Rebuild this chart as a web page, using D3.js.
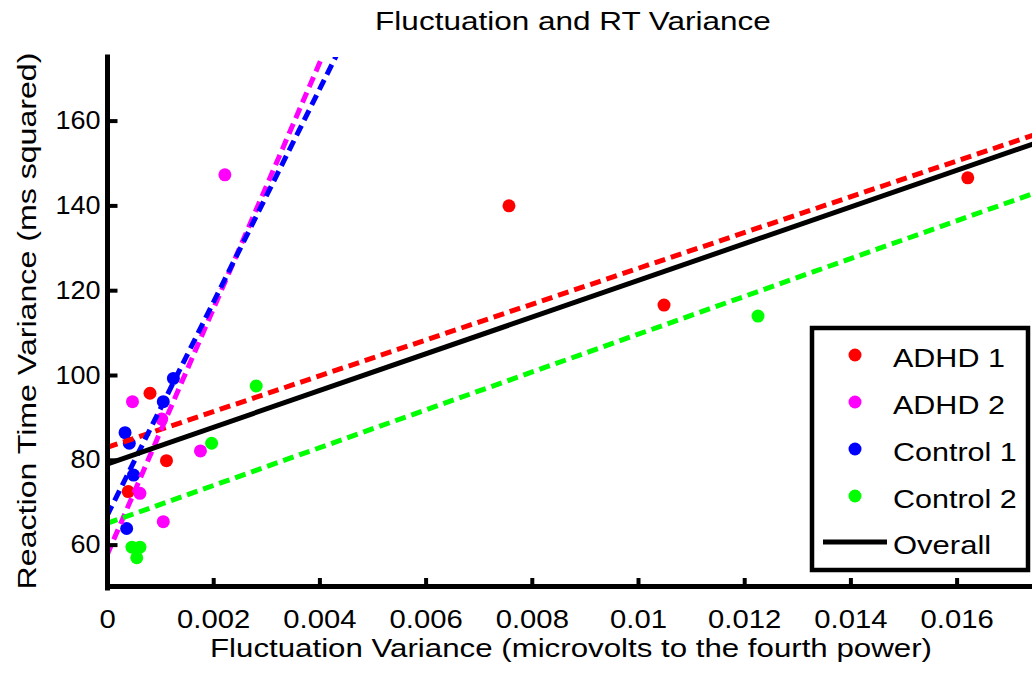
<!DOCTYPE html>
<html>
<head>
<meta charset="utf-8">
<script src="https://cdn.jsdelivr.net/npm/d3@7"></script>
<style>
  html, body { margin: 0; padding: 0; background: #fff; }
  svg { display: block; }
  text { font-family: "Liberation Sans", Arial, Helvetica, sans-serif; fill: #000; }
</style>
</head>
<body>
<svg id="chart" width="1032" height="676"></svg>
<script>
// ---- Data ----
const groups = ["ADHD 1", "ADHD 2", "Control 1", "Control 2"];
const groupColors = ["#ff0000", "#ff00ff", "#0000ff", "#00ff00"];

const adhd1X = [0.01621, 0.00757, 0.01049, 0.00081, 0.00112, 0.00040];
const adhd1Y = [146.5, 139.9, 116.5, 95.7, 79.8, 72.5];

const adhd2X = [0.00222, 0.00048, 0.00103, 0.00176, 0.00062, 0.00106];
const adhd2Y = [147.2, 93.7, 89.6, 82.1, 72.1, 65.4];

const control1X = [0.00034, 0.00042, 0.00125, 0.00106, 0.00050, 0.00037];
const control1Y = [86.4, 83.9, 99.2, 93.7, 76.4, 63.8];

const control2X = [0.01226, 0.00281, 0.00197, 0.00047, 0.00062, 0.00056];
const control2Y = [113.9, 97.4, 83.9, 59.4, 59.4, 56.9];

// fitted lines: [intercept, slope] per group, then overall
const fitIntercepts = [82.9, 57.5, 66.8, 65.0];
const fitSlopes = [4223, 29000, 25130, 4460];
const overallFit = [79.0, 4329];

const xTicks = [0, 0.002, 0.004, 0.006, 0.008, 0.01, 0.012, 0.014, 0.016];
const yTicks = [60, 80, 100, 120, 140, 160];

const titleText = "Fluctuation and RT Variance";
const xLabelText = "Fluctuation Variance (microvolts to the fourth power)";
const yLabelText = "Reaction Time Variance (ms squared)";
const overallLabel = "Overall";

// ---- Build ----
const groupX = [adhd1X, adhd2X, control1X, control2X];
const groupY = [adhd1Y, adhd2Y, control1Y, control2Y];

const svg = d3.select("#chart");
const FS = 25;

const xDomain = [0, 0.0175];
const yDomain = [50, 175];
const x = d3.scaleLinear().domain(xDomain).range([107, 1036.25]);
const y = d3.scaleLinear().domain(yDomain).range([587, 57]);

function stretch(sel, factor) {
  sel.each(function () {
    const len = this.getComputedTextLength();
    d3.select(this).attr("textLength", len * factor).attr("lengthAdjust", "spacingAndGlyphs");
  });
}

svg.append("defs").append("clipPath").attr("id", "plotclip")
  .append("rect").attr("x", 107).attr("y", 57).attr("width", 1036.25 - 107).attr("height", 587 - 57);

// points
const pts = svg.append("g");
groups.forEach((g, i) => {
  pts.selectAll(null)
    .data(groupX[i].map((v, j) => [v, groupY[i][j]]))
    .enter().append("circle")
    .attr("cx", d => x(d[0]))
    .attr("cy", d => y(d[1]))
    .attr("r", 6.5)
    .attr("fill", groupColors[i]);
});

// fit lines
const lines = svg.append("g").attr("clip-path", "url(#plotclip)");
const lineGen = d3.line().x(d => x(d[0])).y(d => y(d[1]));
groups.forEach((g, i) => {
  const seg = xDomain.map(v => [v, fitIntercepts[i] + fitSlopes[i] * v]);
  lines.append("path")
    .attr("d", lineGen(seg))
    .attr("fill", "none")
    .attr("stroke", groupColors[i])
    .attr("stroke-width", 5)
    .attr("stroke-dasharray", "11,6");
});
lines.append("path")
  .attr("d", lineGen(xDomain.map(v => [v, overallFit[0] + overallFit[1] * v])))
  .attr("fill", "none")
  .attr("stroke", "#000")
  .attr("stroke-width", 5);

// axes
const yAxis = svg.append("g").attr("transform", "translate(107.5,0)")
  .call(d3.axisLeft(y).tickValues(yTicks).tickSizeInner(-10).tickSizeOuter(0).tickPadding(7));
const xAxis = svg.append("g").attr("transform", "translate(0,586)")
  .call(d3.axisBottom(x).tickValues(xTicks).tickSizeInner(-8).tickSizeOuter(0).tickPadding(24)
    .tickFormat(d => d === 0 ? "0" : String(+d.toFixed(3))));

[yAxis, xAxis].forEach(a => {
  a.select(".domain").attr("stroke", "#000").attr("stroke-width", 5).attr("stroke-linecap", "square");
  a.selectAll(".tick line").attr("stroke", "#000").attr("stroke-width", 4);
  a.selectAll(".tick text").attr("font-size", FS).attr("font-family", null).attr("fill", "#000");
});
yAxis.select(".domain").attr("d", `M0,${y(175)}V${y(50) + 1}`);
stretch(xAxis.selectAll(".tick text"), 1.17);
stretch(yAxis.selectAll(".tick text"), 1.08);

// title and labels
stretch(svg.append("text").attr("x", 573).attr("y", 30).attr("text-anchor", "middle")
  .attr("font-size", FS).text(titleText), 1.26);
stretch(svg.append("text").attr("x", 571).attr("y", 657).attr("text-anchor", "middle")
  .attr("font-size", FS).text(xLabelText), 1.25);
stretch(svg.append("text").attr("transform", "translate(36,321) rotate(-90)").attr("text-anchor", "middle")
  .attr("font-size", FS).text(yLabelText), 1.285);

// legend
const leg = svg.append("g");
leg.append("rect").attr("x", 812).attr("y", 328).attr("width", 216).attr("height", 242)
  .attr("fill", "#fff").attr("stroke", "#000").attr("stroke-width", 4.5);
const rowY = [355, 402, 449, 496];
groups.forEach((g, i) => {
  leg.append("circle").attr("cx", 855).attr("cy", rowY[i]).attr("r", 6.5).attr("fill", groupColors[i]);
  stretch(leg.append("text").attr("x", 893).attr("y", rowY[i] + 12).attr("font-size", FS).text(g), 1.22);
});
leg.append("line").attr("x1", 823).attr("x2", 887).attr("y1", 542).attr("y2", 542)
  .attr("stroke", "#000").attr("stroke-width", 5);
stretch(leg.append("text").attr("x", 893).attr("y", 554).attr("font-size", FS).text(overallLabel), 1.24);
</script>
</body>
</html>
